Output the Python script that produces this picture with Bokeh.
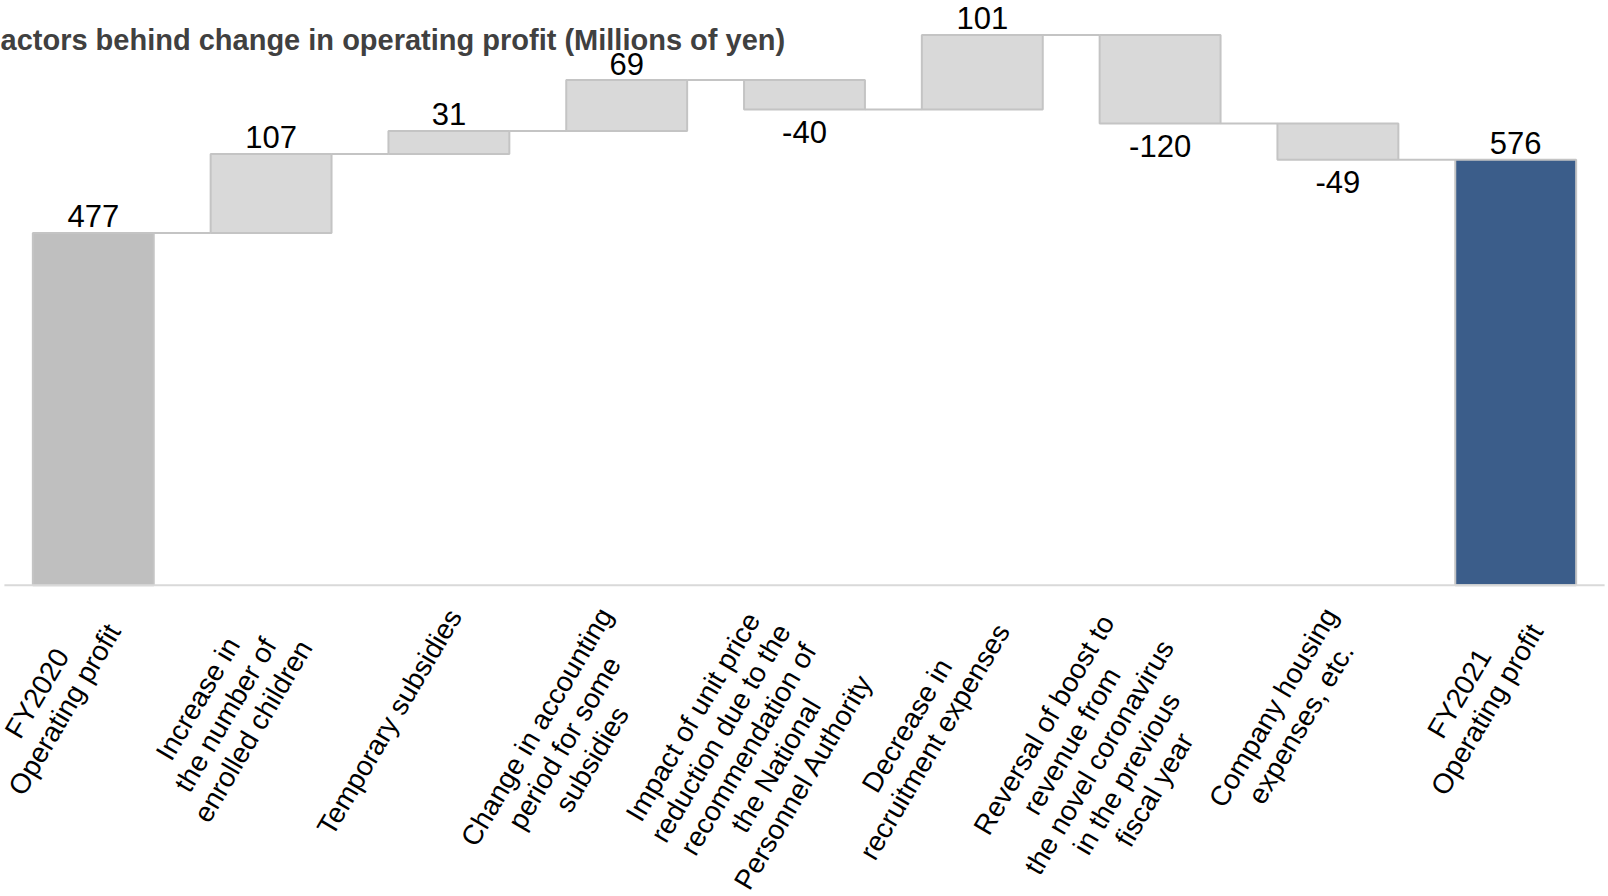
import math
from bokeh.plotting import figure
from bokeh.models import ColumnDataSource, Range1d, FactorRange, LabelSet, Label
from bokeh.transform import dodge
from bokeh.core.properties import value
from bokeh.embed import file_html
from bokeh.resources import INLINE

# ---------------- data ----------------
title_text = "Factors behind change in operating profit (Millions of yen)"

categories = [
    "FY2020 Operating profit",
    "Increase in the number of enrolled children",
    "Temporary subsidies",
    "Change in accounting period for some subsidies",
    "Impact of unit price reduction due to the recommendation of the National Personnel Authority",
    "Decrease in recruitment expenses",
    "Reversal of boost to revenue from the novel coronavirus in the previous fiscal year",
    "Company housing expenses, etc.",
    "FY2021 Operating profit",
]
label_lines = [
    ["FY2020", "Operating profit"],
    ["Increase in", "the number of", "enrolled children"],
    ["Temporary subsidies"],
    ["Change in accounting", "period for some", "subsidies"],
    ["Impact of unit price", "reduction due to the", "recommendation of", "the National", "Personnel Authority"],
    ["Decrease in", "recruitment expenses"],
    ["Reversal of boost to", "revenue from", "the novel coronavirus", "in the previous", "fiscal year"],
    ["Company housing", "expenses, etc."],
    ["FY2021", "Operating profit"],
]
values = [477, 107, 31, 69, -40, 101, -120, -49, 576]
is_total = [True, False, False, False, False, False, False, False, True]

# ---------------- styles ----------------
FONT = "Liberation Sans"
TOTAL_START_COLOR = "#bfbfbf"
TOTAL_END_COLOR = "#3b5d8a"
DELTA_COLOR = "#d9d9d9"
EDGE_COLOR = "#c4c4c4"
CAT_SIZE = 28
VAL_SIZE = 31
TITLE_SIZE = 29
ANGLE = math.radians(59.5)
LINE_SP = 32

# Arial / Liberation Sans advance widths (per 1000 em)
_w = {' ': 278, ',': 278, '.': 278, '-': 333, '(': 333, ')': 333}
for ch in "0123456789":
    _w[ch] = 556
for ch, wv in zip("ABCDEFGHIJKLMNOPQRSTUVWXYZ",
                  [667, 667, 722, 722, 667, 611, 778, 722, 278, 500, 667, 556, 833,
                   722, 778, 667, 778, 722, 667, 611, 722, 667, 944, 667, 667, 611]):
    _w[ch] = wv
for ch, wv in zip("abcdefghijklmnopqrstuvwxyz",
                  [556, 556, 500, 556, 556, 278, 556, 556, 222, 222, 500, 222, 833,
                   556, 556, 556, 556, 333, 500, 278, 556, 500, 722, 500, 500, 500]):
    _w[ch] = wv


def text_width(s, size):
    return sum(_w.get(c, 556) for c in s) / 1000.0 * size


# ---------------- waterfall geometry ----------------
level = 0
bottoms, tops, ends, colors = [], [], [], []
for i, (v, t) in enumerate(zip(values, is_total)):
    if t:
        b, tp = 0, v
        level = v
        colors.append(TOTAL_START_COLOR if i == 0 else TOTAL_END_COLOR)
    else:
        b, tp = sorted([level, level + v])
        level += v
        colors.append(DELTA_COLOR)
    bottoms.append(b)
    tops.append(tp)
    ends.append(level)

bar_src = ColumnDataSource(dict(cat=categories, bottom=bottoms, top=tops, color=colors))
conn_src = ColumnDataSource(dict(x0=categories[:-1], x1=categories[1:], y=ends[:-1]))
base_src = ColumnDataSource(dict(x0=[categories[0]], x1=[categories[-1]], y=[0]))

val_anchor, val_off = [], []
for v, t, b, tp in zip(values, is_total, bottoms, tops):
    if t or v >= 0:
        val_anchor.append(tp)
        val_off.append(5.5)
    else:
        val_anchor.append(b)
        val_off.append(-33)
val_src = ColumnDataSource(dict(cat=categories, y=val_anchor, text=[str(v) for v in values], yo=val_off))

# category label lines (centered lines, block end near tick)
ca, sa = math.cos(ANGLE), math.sin(ANGLE)
dvec = (ca, -sa)      # text direction (screen, y down)
nvec = (-sa, -ca)     # "up" of text (screen, y down)
rows = dict(cat=[], y=[], text=[], xo=[], yo=[])
for cat, lines in zip(categories, label_lines):
    n = len(lines)
    W = max(text_width(s, CAT_SIZE) for s in lines)
    h = (n - 1) / 2 * LINE_SP + 0.555 * CAT_SIZE
    rx, ry = 6.5, 17 + h * ca
    cx, cy = rx - W / 2 * dvec[0], ry - W / 2 * dvec[1]
    for i, s in enumerate(lines):
        k = ((n - 1) / 2 - i) * LINE_SP
        lx, ly = cx + k * nvec[0], cy + k * nvec[1]
        rows["cat"].append(cat)
        rows["y"].append(0)
        rows["text"].append(s)
        rows["xo"].append(lx)
        rows["yo"].append(-ly)
cat_src = ColumnDataSource(rows)

# ---------------- figure ----------------
PX_PER_UNIT = 0.7387
ZERO_PX = 584.8
H = 896
Y_TOP = ZERO_PX / PX_PER_UNIT
Y_BOTTOM = -(H - ZERO_PX) / PX_PER_UNIT

p = figure(width=1608, height=H,
           x_range=FactorRange(factors=categories, range_padding=0.0219,
                               range_padding_units="absolute"),
           y_range=Range1d(Y_BOTTOM, Y_TOP),
           x_axis_location=None, y_axis_location=None,
           toolbar_location=None, output_backend="svg",
           min_border_left=0, min_border_right=0, min_border_top=0, min_border_bottom=0)
p.outline_line_color = None
p.background_fill_color = "white"
p.border_fill_color = "white"
p.grid.visible = False

p.segment(x0=dodge("x0", 0.34, range=p.x_range), x1=dodge("x1", -0.34, range=p.x_range),
          y0="y", y1="y", source=conn_src, line_color=EDGE_COLOR, line_width=2)
p.vbar(x="cat", bottom="bottom", top="top", width=0.68, source=bar_src,
       fill_color="color", line_color=EDGE_COLOR, line_width=2)
p.segment(x0=dodge("x0", -0.5, range=p.x_range), x1=dodge("x1", 0.5, range=p.x_range),
          y0="y", y1="y", source=base_src, line_color="#d9d9d9", line_width=2)

p.add_layout(LabelSet(x="cat", y="y", text="text", y_offset="yo", source=val_src,
                      text_font=value(FONT), text_font_size=f"{VAL_SIZE}px",
                      text_color="#000000", text_align="center", text_baseline="alphabetic"))

p.add_layout(LabelSet(x="cat", y="y", text="text", x_offset="xo", y_offset="yo", source=cat_src,
                      angle=ANGLE, text_font=value(FONT), text_font_size=f"{CAT_SIZE}px",
                      text_color="#000000", text_align="center", text_baseline="middle"))

p.add_layout(Label(x=-17.7, x_units="screen", y=Y_TOP, y_offset=-39, text=title_text,
                   text_font=FONT, text_font_style="bold", text_font_size=f"{TITLE_SIZE}px",
                   text_color="#404040", text_align="left", text_baseline="alphabetic"))

open("out.html", "w").write(file_html(p, INLINE))
